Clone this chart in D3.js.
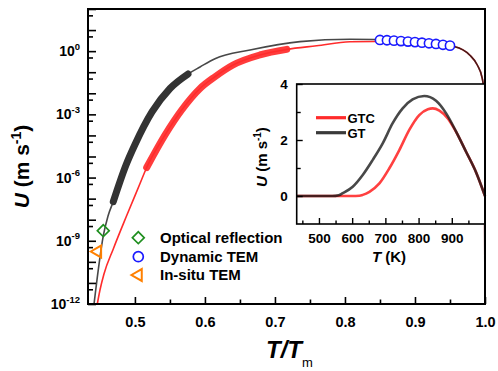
<!DOCTYPE html>
<html>
<head>
<meta charset="utf-8">
<script src="https://cdn.jsdelivr.net/npm/d3@7"></script>
<style>
  body { margin: 0; background: #fff; }
  text { font-family: Arial, "Liberation Sans", sans-serif; font-weight: bold; fill: #000; }
</style>
</head>
<body>
<svg id="chart" width="498" height="371"></svg>
<script>
// main panel: growth velocity U (m/s) vs reduced temperature T/Tm
const gtTm  = [0.4416, 0.4480, 0.4548, 0.4616, 0.4691, 0.4873, 0.5001, 0.5244, 0.5501, 0.5758, 0.5930, 0.6144, 0.6644, 0.7358, 0.8072, 0.8429, 0.870, 0.900, 0.930, 0.957, 0.978, 0.989, 0.996, 0.999, 1.0];
const gtU   = [1e-12, 5.1e-11, 1.7e-9, 1.5e-8, 7.2e-8, 3.95e-6, 3.7e-5, 1.3e-3, 1.69e-2, 8.2e-2, 0.177, 0.44, 1.13, 2.84, 3.66, 3.54, 3.2, 2.58, 2.07, 1.63, 0.66, 0.22, 0.053, 8.3e-3, 1e-13];
const gtcTm = [0.4463, 0.4501, 0.4558, 0.4691, 0.4883, 0.5073, 0.5168, 0.5430, 0.5668, 0.5930, 0.6144, 0.6401, 0.6786, 0.7168, 0.7596, 0.8072, 0.8429, 0.870, 0.900, 0.930, 0.957, 0.978, 0.989, 0.996, 0.999, 1.0];
const gtcU  = [1e-12, 4.6e-12, 2.65e-11, 4.1e-10, 1.58e-8, 5.2e-7, 3.0e-6, 1.05e-4, 1.61e-3, 1.69e-2, 6.1e-2, 0.22, 0.66, 1.21, 1.80, 2.78, 2.87, 2.85, 2.58, 2.07, 1.63, 0.66, 0.22, 0.053, 8.3e-3, 1e-13];

// experimental ranges (thick segments)
const gtExpTm  = [0.4691, 0.4873, 0.5001, 0.5244, 0.5501, 0.5758];
const gtExpU   = [7.2e-8, 3.95e-6, 3.7e-5, 1.3e-3, 1.69e-2, 8.2e-2];
const gtcExpTm = [0.5168, 0.5430, 0.5668, 0.5930, 0.6144, 0.6401, 0.6786, 0.7168];
const gtcExpU  = [3.0e-6, 1.05e-4, 1.61e-3, 1.69e-2, 6.1e-2, 0.22, 0.66, 1.21];

// point data
const dynTm = [0.85, 0.86, 0.87, 0.88, 0.89, 0.90, 0.91, 0.92, 0.93, 0.94, 0.95];
const dynU  = [3.39, 3.28, 3.14, 3.01, 2.85, 2.69, 2.52, 2.36, 2.19, 2.00, 1.82];
const optTm = [0.4548];
const optU  = [3.0e-9];
const situTm = [0.4468];
const situU  = [3.1e-10];

// inset: U (m/s) vs T (K)
const insGtT  = [433, 540, 560, 571.5, 601.7, 631.8, 662, 692, 722, 752, 782, 817, 852.6, 883, 913, 943, 973, 1000];
const insGtU  = [0, 0, 0.03, 0.10, 0.33, 0.75, 1.29, 1.88, 2.6, 3.13, 3.45, 3.57, 3.40, 2.95, 2.30, 1.58, 0.85, 0];
const insGtcT = [433, 600, 621.6, 632, 652, 682, 712, 742, 772, 802, 828, 842.6, 862.6, 888, 913, 943, 973, 1000];
const insGtcU = [0, 0, 0.01, 0.04, 0.15, 0.45, 0.99, 1.64, 2.36, 2.89, 3.10, 3.13, 3.05, 2.77, 2.29, 1.58, 0.85, 0];

// ticks and labels
const xTicks = [0.5, 0.6, 0.7, 0.8, 0.9, 1.0];
const xMinor = [0.55, 0.65, 0.75, 0.85, 0.95];
const yLabelExp = [-12, -9, -6, -3, 0];
const yDecades = d3.range(-12, 3);
const insXTicks = [500, 600, 700, 800, 900];
const insXMinor = [450, 550, 650, 750, 850, 950];
const insYTicks = [0, 2, 4];
const insYMinor = [1, 3];
const legendNames = ['Optical reflection', 'Dynamic TEM', 'In-situ TEM'];
const insLegendNames = ['GTC', 'GT'];

const RED = '#ff2b2b', DARK = '#151515';

const svg = d3.select('#chart');
const L = 88, R = 485, T = 9, B = 304;

const x = d3.scaleLinear().domain([0.433, 1.0]).range([L, R]);
const y = d3.scaleLog().domain([1e-12, 1e2]).range([B, T]);

svg.append('clipPath').attr('id', 'clipMain')
  .append('rect').attr('x', L).attr('y', T).attr('width', R - L).attr('height', B - T);

// axes ticks (inward)
svg.append('g').attr('transform', `translate(0,${B})`)
  .call(d3.axisBottom(x).tickValues(xTicks).tickSize(-7).tickPadding(12.5).tickFormat(d3.format('.1f')))
  .call(g => g.select('.domain').remove())
  .call(g => g.selectAll('line').attr('stroke-width', 1.6))
  .call(g => g.selectAll('text').attr('font-size', 14.5).attr('font-family', 'Arial, Liberation Sans').attr('font-weight', 'bold'));
svg.append('g').attr('transform', `translate(0,${B})`)
  .call(d3.axisBottom(x).tickValues(xMinor).tickSize(-4.5).tickFormat(''))
  .call(g => g.select('.domain').remove())
  .call(g => g.selectAll('line').attr('stroke-width', 1.6));

svg.append('g').attr('transform', `translate(${L},0)`)
  .call(d3.axisLeft(y).tickValues(yDecades.map(e => Math.pow(10, e))).tickSize(-8).tickFormat(''))
  .call(g => g.select('.domain').remove())
  .call(g => g.selectAll('line').attr('stroke-width', 1.6));
svg.append('g').attr('transform', `translate(${L},0)`)
  .call(d3.axisLeft(y).tickValues(yDecades.slice(0, -1).map(e => 5 * Math.pow(10, e))).tickSize(-5).tickFormat(''))
  .call(g => g.select('.domain').remove())
  .call(g => g.selectAll('line').attr('stroke-width', 1.6));

// y tick labels 10^n
yLabelExp.forEach(e => {
  const t = svg.append('text').attr('x', 80).attr('y', y(Math.pow(10, e)) + 5)
    .attr('text-anchor', 'end').attr('font-size', 14);
  t.append('tspan').text('10');
  t.append('tspan').attr('font-size', 9.5).attr('dy', -6.5).text(String(e));
});

// axis titles
const yt = svg.append('text').attr('transform', 'translate(28.5,166.5) rotate(-90)')
  .attr('text-anchor', 'middle').attr('font-size', 21);
yt.append('tspan').attr('font-style', 'italic').text('U');
yt.append('tspan').text(' (m s');
yt.append('tspan').attr('font-size', 14).attr('dy', -8).text('-1');
yt.append('tspan').attr('dy', 8).text(')');

const xt = svg.append('text').attr('x', 266).attr('y', 358).attr('font-size', 24);
xt.append('tspan').attr('font-style', 'italic').text('T/T');
xt.append('tspan').attr('font-size', 13).attr('font-weight', 'normal').attr('dy', 9).text('m');

// curves
const mainLine = d3.line().x(d => x(d[0])).y(d => y(d[1])).curve(d3.curveMonotoneX);
const plot = svg.append('g').attr('clip-path', 'url(#clipMain)');

plot.append('path').datum(d3.zip(gtcTm, gtcU)).attr('d', mainLine)
  .attr('fill', 'none').attr('stroke', RED).attr('stroke-width', 1.6);
plot.append('path').datum(d3.zip(gtTm, gtU)).attr('d', mainLine)
  .attr('fill', 'none').attr('stroke', DARK).attr('stroke-opacity', 0.78).attr('stroke-width', 1.6);

plot.append('path').datum(d3.zip(gtcExpTm, gtcExpU)).attr('d', mainLine)
  .attr('fill', 'none').attr('stroke', RED).attr('stroke-opacity', 0.92)
  .attr('stroke-width', 7).attr('stroke-linecap', 'round');
plot.append('path').datum(d3.zip(gtExpTm, gtExpU)).attr('d', mainLine)
  .attr('fill', 'none').attr('stroke', '#333').attr('stroke-width', 7).attr('stroke-linecap', 'round');

// markers
const diamond = d3.symbol().type(d3.symbolSquare).size(70);
const tri = d3.symbol().type(d3.symbolTriangle).size(62);

plot.selectAll('.dyn').data(d3.zip(dynTm, dynU)).join('circle')
  .attr('cx', d => x(d[0])).attr('cy', d => y(d[1])).attr('r', 4.6)
  .attr('fill', '#fff').attr('stroke', '#1a1aff').attr('stroke-width', 1.6);
plot.selectAll('.opt').data(d3.zip(optTm, optU)).join('path')
  .attr('d', diamond).attr('transform', d => `translate(${x(d[0])},${y(d[1])}) rotate(45)`)
  .attr('fill', 'none').attr('stroke', '#1f8f1f').attr('stroke-width', 1.7);
plot.selectAll('.situ').data(d3.zip(situTm, situU)).join('path')
  .attr('d', tri).attr('transform', d => `translate(${x(d[0])},${y(d[1])}) rotate(-90)`)
  .attr('fill', 'none').attr('stroke', '#ff8000').attr('stroke-width', 2);

// legend
const legY = [237.7, 256.7, 275];
const leg = svg.append('g');
leg.append('path').attr('d', diamond).attr('transform', `translate(138.3,${legY[0]}) rotate(45)`)
  .attr('fill', 'none').attr('stroke', '#1f8f1f').attr('stroke-width', 1.7);
leg.append('circle').attr('cx', 138.3).attr('cy', legY[1]).attr('r', 5)
  .attr('fill', 'none').attr('stroke', '#1a1aff').attr('stroke-width', 1.7);
leg.append('path').attr('d', tri).attr('transform', `translate(138.3,${legY[2]}) rotate(-90)`)
  .attr('fill', 'none').attr('stroke', '#ff8000').attr('stroke-width', 2);
legendNames.forEach((n, i) => {
  leg.append('text').attr('x', 160).attr('y', legY[i] + 5.3).attr('font-size', 15).text(n);
});

// inset
const IL = 296.7, IR = 485, IT = 84, IB = 224;
const xi = d3.scaleLinear().domain([433, 1000]).range([IL, IR]);
const yi = d3.scaleLinear().domain([-1, 4]).range([IB, IT]);
const ins = svg.append('g');
ins.append('rect').attr('x', IL).attr('y', IT).attr('width', IR - IL).attr('height', IB - IT).attr('fill', '#fff');

const insLine = d3.line().x(d => xi(d[0])).y(d => yi(d[1])).curve(d3.curveMonotoneX);
ins.append('path').datum(d3.zip(insGtcT, insGtcU)).attr('d', insLine)
  .attr('fill', 'none').attr('stroke', RED).attr('stroke-opacity', 0.9).attr('stroke-width', 2.6);
ins.append('path').datum(d3.zip(insGtT, insGtU)).attr('d', insLine)
  .attr('fill', 'none').attr('stroke', DARK).attr('stroke-opacity', 0.78).attr('stroke-width', 2.6);

ins.append('g').attr('transform', `translate(0,${IB})`)
  .call(d3.axisBottom(xi).tickValues(insXTicks).tickSize(-6).tickPadding(9.7).tickFormat(d3.format('d')))
  .call(g => g.select('.domain').remove())
  .call(g => g.selectAll('line').attr('stroke-width', 1.4))
  .call(g => g.selectAll('text').attr('font-size', 13.5).attr('font-family', 'Arial, Liberation Sans').attr('font-weight', 'bold'));
ins.append('g').attr('transform', `translate(0,${IB})`)
  .call(d3.axisBottom(xi).tickValues(insXMinor).tickSize(-3.5).tickFormat(''))
  .call(g => g.select('.domain').remove())
  .call(g => g.selectAll('line').attr('stroke-width', 1.4));
ins.append('g').attr('transform', `translate(${IL},0)`)
  .call(d3.axisLeft(yi).tickValues(insYTicks).tickSize(-6).tickPadding(9).tickFormat(d3.format('d')))
  .call(g => g.select('.domain').remove())
  .call(g => g.selectAll('line').attr('stroke-width', 1.4))
  .call(g => g.selectAll('text').attr('font-size', 13.5).attr('font-family', 'Arial, Liberation Sans').attr('font-weight', 'bold'));
ins.append('g').attr('transform', `translate(${IL},0)`)
  .call(d3.axisLeft(yi).tickValues(insYMinor).tickSize(-4).tickFormat(''))
  .call(g => g.select('.domain').remove())
  .call(g => g.selectAll('line').attr('stroke-width', 1.4));

ins.append('rect').attr('x', IL).attr('y', IT).attr('width', IR - IL).attr('height', IB - IT)
  .attr('fill', 'none').attr('stroke', '#000').attr('stroke-width', 1.6);

// inset titles
const iyt = ins.append('text').attr('transform', 'translate(267,157) rotate(-90)')
  .attr('text-anchor', 'middle').attr('font-size', 15);
iyt.append('tspan').attr('font-style', 'italic').text('U');
iyt.append('tspan').text(' (m s');
iyt.append('tspan').attr('font-size', 10).attr('dy', -6).text('-1');
iyt.append('tspan').attr('dy', 6).text(')');
const ixt = ins.append('text').attr('x', 389).attr('y', 261.7).attr('text-anchor', 'middle').attr('font-size', 15);
ixt.append('tspan').attr('font-style', 'italic').text('T');
ixt.append('tspan').text(' (K)');

// inset legend
const insLegY = [117.7, 132.7];
const insLegCol = [RED, '#3a3a3a'];
insLegendNames.forEach((n, i) => {
  ins.append('line').attr('x1', 316).attr('x2', 346).attr('y1', insLegY[i]).attr('y2', insLegY[i])
    .attr('stroke', insLegCol[i]).attr('stroke-width', 3.2);
  ins.append('text').attr('x', 347.5).attr('y', insLegY[i] + 4.8).attr('font-size', 13).text(n);
});

// main frame on top
svg.append('rect').attr('x', L).attr('y', T).attr('width', R - L).attr('height', B - T)
  .attr('fill', 'none').attr('stroke', '#000').attr('stroke-width', 2);
</script>
</body>
</html>
